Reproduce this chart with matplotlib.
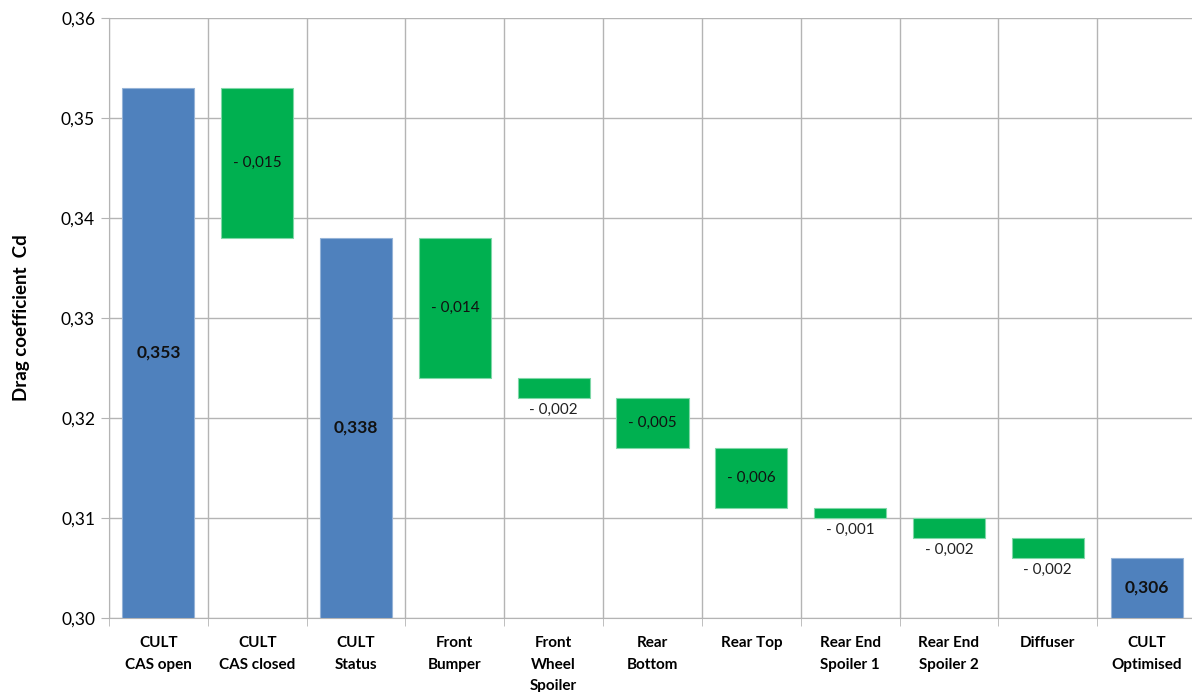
import matplotlib
matplotlib.use('Agg')
import matplotlib.pyplot as plt
import numpy as np

# ===== 数据 =====
categories = ['CULT\nCAS open', 'CULT\nCAS closed', 'CULT\nStatus', 'Front\nBumper',
              'Front\nWheel\nSpoiler', 'Rear\nBottom', 'Rear Top', 'Rear End\nSpoiler 1',
              'Rear End\nSpoiler 2', 'Diffuser', 'CULT\nOptimised']
# 'total' 柱从 0.30 起；'delta' 柱为浮动段
kinds = ['total', 'delta', 'total', 'delta', 'delta', 'delta', 'delta', 'delta', 'delta', 'delta', 'total']
bar_top = [0.353, 0.353, 0.338, 0.338, 0.324, 0.322, 0.317, 0.311, 0.310, 0.308, 0.306]
bar_bottom = [0.300, 0.338, 0.300, 0.324, 0.322, 0.317, 0.311, 0.310, 0.308, 0.306, 0.300]
labels = ['0,353', '- 0,015', '0,338', '- 0,014', '- 0,002', '- 0,005', '- 0,006',
          '- 0,001', '- 0,002', '- 0,002', '0,306']
# 小的差值标签放在柱下方
label_below = [False, False, False, False, True, False, False, True, True, True, False]

y_ticks = [0.30, 0.31, 0.32, 0.33, 0.34, 0.35, 0.36]
y_tick_labels = ['0,30', '0,31', '0,32', '0,33', '0,34', '0,35', '0,36']

plt.rcParams['font.family'] = ['Lato', 'DejaVu Sans']

BLUE = '#4F81BD'
GREEN = '#00B050'
GRID = '#b4b4b4'

fig = plt.figure(figsize=(11.92, 6.92), dpi=100)
ax = fig.add_axes([109 / 1192, 74 / 692, 1087 / 1192, 600 / 692])

x = np.arange(len(categories))
for i in range(len(categories)):
    color = BLUE if kinds[i] == 'total' else GREEN
    edge = '#95b3d7' if kinds[i] == 'total' else '#7fd7a7'
    ax.bar(x[i], bar_top[i] - bar_bottom[i], bottom=bar_bottom[i], width=0.73,
           color=color, edgecolor=edge, linewidth=0.8, zorder=3)
    if kinds[i] == 'total':
        ax.text(x[i], (bar_top[i] + bar_bottom[i]) / 2, labels[i], ha='center', va='center',
                fontsize=12.5, fontweight='bold', color='#111111', zorder=4)
    elif label_below[i]:
        ax.text(x[i], bar_bottom[i] - 0.00045, labels[i], ha='center', va='top',
                fontsize=11, color='#222222', zorder=4)
    else:
        ax.text(x[i], (bar_top[i] + bar_bottom[i]) / 2, labels[i], ha='center', va='center',
                fontsize=11, color='#111111', zorder=4)

ax.set_xlim(-0.5, len(categories) - 0.5)
ax.set_ylim(0.30, 0.36)
ax.set_yticks(y_ticks)
ax.set_yticklabels(y_tick_labels, fontsize=12.5)
ax.set_xticks(x)
ax.set_xticklabels(categories, fontsize=11, fontweight='bold', va='top', linespacing=1.7)
ax.set_xticks(np.arange(-0.5, len(categories), 1.0), minor=True)

ax.tick_params(axis='x', which='major', length=0, pad=13)
ax.tick_params(axis='x', which='minor', length=6, color=GRID, direction='out')
ax.tick_params(axis='y', length=6, color=GRID, direction='out', pad=4)

ax.grid(True, axis='y', color=GRID, linewidth=1, zorder=0)
ax.grid(True, axis='x', which='minor', color=GRID, linewidth=1, zorder=0)
ax.grid(False, axis='x', which='major')

for side in ['top', 'right']:
    ax.spines[side].set_visible(False)
ax.spines['left'].set_color(GRID)
ax.spines['bottom'].set_color(GRID)

ax.set_ylabel('Drag coefficient  Cd', fontsize=13.5, fontweight='bold', labelpad=22)

plt.savefig('out.png', dpi=100)
plt.close()
